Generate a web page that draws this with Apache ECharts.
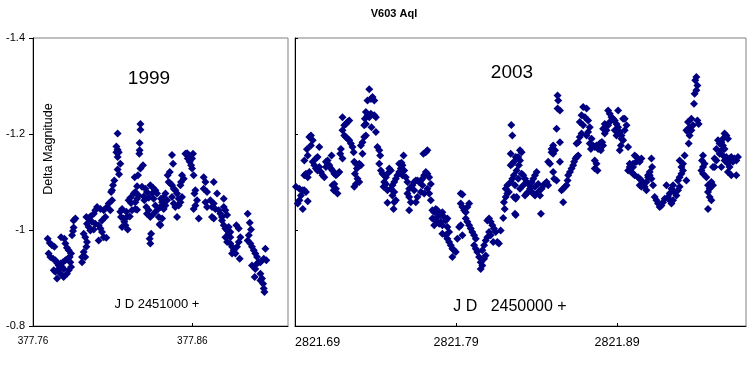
<!DOCTYPE html>
<html>
<head>
<meta charset="utf-8">
<script src="https://cdn.jsdelivr.net/npm/echarts@6/dist/echarts.min.js"></script>
<style>
html,body{margin:0;padding:0;background:#fff;}
#chart{width:750px;height:370px;}
</style>
</head>
<body>
<div id="chart"></div>
<script>
// ---- data ----
const chartTitle = 'V603 Aql';
const yAxisName = 'Delta Magnitude';
const panelYears = ['1999', '2003'];
const panelXNames = ['J D 2451000 +', 'J D   2450000 +'];
const magTicks = [-1.4, -1.2, -1.0, -0.8];
const jdTicks1999 = [377.76, 377.86];
const jdTicks2003 = [2821.69, 2821.79, 2821.89];
const jdRange1999 = [377.76, 377.92];
const jdRange2003 = [2821.69, 2821.97];

const obs1999 = [
[377.7692,-0.982],[377.7705,-0.973],[377.7719,-0.968],[377.7734,-0.965],[377.7698,-0.951],[377.7709,-0.944],
[377.7726,-0.940],[377.7740,-0.937],[377.7751,-0.931],[377.7761,-0.926],[377.7772,-0.930],[377.7788,-0.933],
[377.7803,-0.937],[377.7818,-0.940],[377.7830,-0.944],[377.7839,-0.951],[377.7776,-0.985],[377.7797,-0.982],
[377.7803,-0.972],[377.7813,-0.963],[377.7824,-0.958],[377.7834,-0.933],[377.7839,-0.923],[377.7824,-0.916],
[377.7813,-0.909],[377.7792,-0.902],[377.7772,-0.909],[377.7751,-0.899],[377.7740,-0.913],[377.7730,-0.916],
[377.7761,-0.919],[377.7782,-0.923],[377.7792,-0.919],[377.7855,-1.020],[377.7866,-1.024],[377.7855,-1.005],
[377.7851,-0.998],[377.7845,-0.989],[377.7918,-0.992],[377.7928,-0.985],[377.7939,-0.975],[377.7935,-0.965],
[377.7918,-0.954],[377.7928,-0.944],[377.7908,-0.933],[377.7908,-0.944],[377.8096,-1.062],[377.8075,-1.055],
[377.8064,-1.048],[377.8044,-1.041],[377.8023,-1.044],[377.8002,-1.048],[377.7991,-1.041],[377.7981,-1.034],
[377.7960,-1.028],[377.7949,-1.024],[377.7970,-1.017],[377.7991,-1.013],[377.8012,-1.010],[377.8023,-1.003],
[377.8033,-0.996],[377.8044,-0.985],[377.8060,-0.984],[377.8012,-0.978],[377.7960,-0.999],[377.7981,-1.001],
[377.7949,-1.006],[377.7939,-1.013],[377.8033,-1.020],[377.8054,-1.027],[377.8085,-1.041],[377.7935,-1.027],
[377.8274,-1.221],[377.8274,-1.209],[377.8131,-1.201],[377.8269,-1.181],[377.8269,-1.166],[377.8267,-1.159],
[377.8123,-1.174],[377.8131,-1.167],[377.8123,-1.162],[377.8138,-1.162],[377.8131,-1.152],[377.8148,-1.138],
[377.8131,-1.126],[377.8140,-1.116],[377.8290,-1.135],[377.8274,-1.128],[377.8238,-1.110],[377.8259,-1.114],
[377.8110,-1.103],[377.8102,-1.093],[377.8096,-1.083],[377.8090,-1.079],[377.8253,-1.091],[377.8232,-1.076],
[377.8211,-1.067],[377.8200,-1.062],[377.8215,-1.056],[377.8242,-1.058],[377.8253,-1.065],[377.8263,-1.072],
[377.8242,-1.079],[377.8242,-1.044],[377.8253,-1.042],[377.8221,-1.041],[377.8159,-1.044],[377.8148,-1.038],
[377.8152,-1.027],[377.8169,-1.024],[377.8190,-1.027],[377.8207,-1.028],[377.8173,-1.017],[377.8180,-1.010],
[377.8159,-1.006],[377.8194,-1.001],[377.8186,-1.038],[377.8284,-1.090],[377.8305,-1.086],[377.8315,-1.079],
[377.8336,-1.093],[377.8353,-1.088],[377.8368,-1.083],[377.8378,-1.076],[377.8357,-1.065],[377.8326,-1.067],
[377.8295,-1.070],[377.8299,-1.062],[377.8311,-1.048],[377.8326,-1.041],[377.8315,-1.034],[377.8336,-1.027],
[377.8357,-1.034],[377.8378,-1.041],[377.8368,-1.051],[377.8399,-1.048],[377.8389,-1.027],[377.8410,-1.024],
[377.8395,-1.012],[377.8341,-0.992],[377.8332,-0.982],[377.8336,-0.972],[377.8347,-1.076],[377.8403,-1.065],
[377.8420,-1.062],[377.8472,-1.156],[377.8479,-1.138],[377.8556,-1.159],[377.8567,-1.160],[377.8577,-1.156],
[377.8587,-1.152],[377.8598,-1.149],[377.8583,-1.142],[377.8592,-1.135],[377.8598,-1.128],[377.8608,-1.114],
[377.8604,-1.159],[377.8571,-1.149],[377.8458,-1.121],[377.8445,-1.114],[377.8451,-1.100],[377.8462,-1.097],
[377.8472,-1.093],[377.8483,-1.086],[377.8493,-1.083],[377.8504,-1.076],[377.8514,-1.065],[377.8525,-1.058],
[377.8514,-1.051],[377.8493,-1.048],[377.8504,-1.027],[377.8431,-1.076],[377.8420,-1.069],[377.8410,-1.058],
[377.8420,-1.044],[377.8431,-1.051],[377.8399,-1.010],[377.8535,-1.114],[377.8546,-1.107],[377.8529,-1.100],
[377.8525,-1.093],[377.8535,-1.069],[377.8441,-1.062],[377.8472,-1.069],[377.8483,-1.055],[377.8619,-1.083],
[377.8613,-1.076],[377.8629,-1.062],[377.8619,-1.051],[377.8608,-1.044],[377.8640,-1.024],[377.8671,-1.110],
[377.8682,-1.100],[377.8671,-1.086],[377.8692,-1.079],[377.8682,-1.058],[377.8692,-1.048],[377.8713,-1.062],
[377.8734,-1.055],[377.8723,-1.048],[377.8744,-1.044],[377.8755,-1.076],[377.8734,-1.100],[377.8765,-1.041],
[377.8776,-1.034],[377.8786,-1.027],[377.8797,-1.048],[377.8807,-1.041],[377.8818,-1.031],[377.8797,-1.065],
[377.8723,-1.027],[377.8734,-1.024],[377.8786,-1.020],[377.8797,-1.010],[377.8807,-1.003],[377.8818,-0.999],
[377.8828,-0.992],[377.8838,-0.985],[377.8807,-0.985],[377.8818,-0.975],[377.8838,-0.972],[377.8849,-0.965],
[377.8859,-0.958],[377.8870,-0.951],[377.8849,-0.951],[377.8876,-1.010],[377.8891,-1.003],[377.8901,-0.985],
[377.8891,-0.975],[377.8880,-0.965],[377.8897,-0.940],[377.8828,-1.006],[377.8838,-0.996],[377.8947,-1.034],
[377.8960,-1.015],[377.8968,-1.001],[377.8954,-0.989],[377.8947,-0.978],[377.8964,-0.972],[377.8974,-0.965],
[377.8985,-0.958],[377.8995,-0.951],[377.9006,-0.944],[377.9016,-0.933],[377.8974,-0.926],[377.8995,-0.919],
[377.9006,-0.930],[377.9027,-0.933],[377.9048,-0.940],[377.9058,-0.961],[377.9064,-0.937],[377.8991,-0.902],
[377.9027,-0.909],[377.9037,-0.899],[377.9044,-0.888],[377.9048,-0.878],[377.9052,-0.871],[377.9027,-0.895]
];

const obs2003 = [
[2821.6906,-1.090],[2821.6927,-1.086],[2821.6948,-1.083],[2821.6968,-1.079],[2821.6937,-1.072],[2821.6927,-1.062],
[2821.6917,-1.055],[2821.6948,-1.044],[2821.6979,-1.060],[2821.6958,-1.083],[2821.6958,-1.114],[2821.6968,-1.117],
[2821.6989,-1.121],[2821.6979,-1.110],[2821.6958,-1.145],[2821.6979,-1.155],[2821.6974,-1.168],[2821.6989,-1.194],
[2821.6999,-1.197],[2821.7010,-1.187],[2821.6999,-1.176],[2821.7010,-1.142],[2821.7020,-1.135],[2821.7030,-1.128],
[2821.7040,-1.124],[2821.7051,-1.131],[2821.7030,-1.149],[2821.7040,-1.152],[2821.7051,-1.173],[2821.7061,-1.121],
[2821.7071,-1.114],[2821.7082,-1.110],[2821.7092,-1.131],[2821.7102,-1.138],[2821.7113,-1.135],[2821.7123,-1.128],
[2821.7133,-1.124],[2821.7144,-1.117],[2821.7154,-1.114],[2821.7164,-1.117],[2821.7175,-1.121],[2821.7127,-1.155],
[2821.7102,-1.145],[2821.7092,-1.142],[2821.7133,-1.093],[2821.7144,-1.096],[2821.7154,-1.086],[2821.7140,-1.083],
[2821.7164,-1.076],[2821.7185,-1.169],[2821.7181,-1.159],[2821.7195,-1.149],[2821.7195,-1.235],[2821.7206,-1.218],
[2821.7216,-1.221],[2821.7226,-1.225],[2821.7237,-1.228],[2821.7195,-1.208],[2821.7206,-1.197],[2821.7216,-1.194],
[2821.7226,-1.190],[2821.7237,-1.187],[2821.7247,-1.180],[2821.7257,-1.173],[2821.7264,-1.162],[2821.7268,-1.142],
[2821.7278,-1.138],[2821.7284,-1.128],[2821.7272,-1.117],[2821.7288,-1.107],[2821.7299,-1.100],[2821.7278,-1.096],
[2821.7268,-1.090],[2821.7299,-1.138],[2821.7309,-1.135],[2821.7309,-1.176],[2821.7319,-1.183],[2821.7330,-1.194],
[2821.7340,-1.197],[2821.7330,-1.218],[2821.7340,-1.221],[2821.7319,-1.159],[2821.7361,-1.293],[2821.7350,-1.270],
[2821.7371,-1.273],[2821.7381,-1.277],[2821.7392,-1.270],[2821.7340,-1.246],[2821.7350,-1.239],[2821.7361,-1.235],
[2821.7371,-1.242],[2821.7392,-1.239],[2821.7402,-1.235],[2821.7375,-1.214],[2821.7402,-1.204],[2821.7334,-1.232],
[2821.7412,-1.173],[2821.7423,-1.166],[2821.7429,-1.155],[2821.7423,-1.138],[2821.7433,-1.124],[2821.7443,-1.117],
[2821.7454,-1.114],[2821.7464,-1.110],[2821.7474,-1.117],[2821.7485,-1.128],[2821.7495,-1.124],[2821.7454,-1.100],
[2821.7450,-1.090],[2821.7464,-1.096],[2821.7474,-1.083],[2821.7495,-1.086],[2821.7505,-1.093],[2821.7516,-1.100],
[2821.7526,-1.107],[2821.7536,-1.114],[2821.7547,-1.121],[2821.7557,-1.128],[2821.7567,-1.135],[2821.7578,-1.124],
[2821.7561,-1.140],[2821.7574,-1.155],[2821.7547,-1.138],[2821.7567,-1.114],[2821.7516,-1.079],[2821.7505,-1.072],
[2821.7516,-1.058],[2821.7526,-1.062],[2821.7474,-1.057],[2821.7512,-1.044],[2821.7588,-1.110],[2821.7598,-1.100],
[2821.7609,-1.086],[2821.7598,-1.076],[2821.7609,-1.069],[2821.7619,-1.058],[2821.7609,-1.041],[2821.7629,-1.093],
[2821.7640,-1.100],[2821.7650,-1.103],[2821.7660,-1.103],[2821.7671,-1.100],[2821.7681,-1.103],[2821.7691,-1.107],
[2821.7702,-1.114],[2821.7712,-1.121],[2821.7722,-1.117],[2821.7733,-1.110],[2821.7743,-1.096],[2821.7691,-1.093],
[2821.7681,-1.079],[2821.7702,-1.076],[2821.7722,-1.086],[2821.7733,-1.076],[2821.7743,-1.062],[2821.7697,-1.159],
[2821.7712,-1.162],[2821.7722,-1.166],[2821.7640,-1.083],[2821.7660,-1.069],[2821.7650,-1.058],[2821.7753,-1.041],
[2821.7764,-1.037],[2821.7774,-1.044],[2821.7784,-1.041],[2821.7795,-1.034],[2821.7805,-1.031],[2821.7815,-1.037],
[2821.7826,-1.027],[2821.7836,-1.020],[2821.7846,-1.024],[2821.7784,-1.027],[2821.7774,-1.020],[2821.7764,-1.010],
[2821.7795,-1.013],[2821.7805,-1.017],[2821.7815,-1.010],[2821.7753,-1.024],[2821.7815,-0.992],[2821.7836,-0.989],
[2821.7846,-0.982],[2821.7857,-0.975],[2821.7867,-0.968],[2821.7877,-0.961],[2821.7888,-0.958],[2821.7898,-0.954],
[2821.7877,-0.944],[2821.7857,-0.996],[2821.7846,-1.006],[2821.7908,-0.982],[2821.7919,-1.006],[2821.7929,-1.010],
[2821.7939,-0.989],[2821.7929,-1.076],[2821.7939,-1.074],[2821.7929,-1.055],[2821.7939,-1.048],[2821.7950,-1.041],
[2821.7960,-1.037],[2821.7970,-1.048],[2821.7981,-1.055],[2821.7960,-1.024],[2821.7970,-1.017],[2821.7981,-1.010],
[2821.7991,-1.003],[2821.8001,-0.996],[2821.8012,-0.989],[2821.8022,-0.982],[2821.8012,-0.968],[2821.8022,-0.961],
[2821.8032,-0.954],[2821.8043,-0.944],[2821.8053,-0.933],[2821.8053,-0.919],[2821.8063,-0.926],[2821.8074,-0.940],
[2821.8084,-0.947],[2821.8063,-0.958],[2821.8074,-0.968],[2821.8084,-0.978],[2821.8094,-0.985],[2821.8105,-0.996],
[2821.8094,-1.020],[2821.8105,-1.024],[2821.8115,-1.017],[2821.8125,-1.010],[2821.8135,-1.003],[2821.8146,-0.996],
[2821.8115,-0.989],[2821.8131,-0.975],[2821.8156,-0.975],[2821.8166,-0.972],[2821.8177,-0.999],[2821.8193,-1.025],
[2821.8202,-1.044],[2821.8197,-1.058],[2821.8208,-1.069],[2821.8218,-1.076],[2821.8228,-1.079],[2821.8208,-1.086],
[2821.8218,-1.093],[2821.8239,-1.100],[2821.8249,-1.107],[2821.8259,-1.114],[2821.8239,-1.135],[2821.8249,-1.138],
[2821.8259,-1.142],[2821.8270,-1.152],[2821.8239,-1.159],[2821.8249,-1.197],[2821.8243,-1.219],[2821.8270,-1.031],
[2821.8259,-1.069],[2821.8270,-1.065],[2821.8297,-1.166],[2821.8307,-1.162],[2821.8286,-1.152],[2821.8297,-1.145],
[2821.8290,-1.135],[2821.8276,-1.124],[2821.8286,-1.107],[2821.8266,-1.093],[2821.8276,-1.069],[2821.8266,-1.034],
[2821.8307,-1.117],[2821.8317,-1.114],[2821.8328,-1.107],[2821.8338,-1.100],[2821.8348,-1.096],[2821.8359,-1.093],
[2821.8369,-1.100],[2821.8379,-1.107],[2821.8390,-1.114],[2821.8400,-1.121],[2821.8359,-1.086],[2821.8348,-1.079],
[2821.8338,-1.076],[2821.8328,-1.072],[2821.8369,-1.079],[2821.8379,-1.076],[2821.8390,-1.072],[2821.8410,-1.079],
[2821.8421,-1.072],[2821.8431,-1.086],[2821.8441,-1.093],[2821.8452,-1.096],[2821.8462,-1.100],[2821.8472,-1.093],
[2821.8427,-1.034],[2821.8390,-1.090],[2821.8410,-1.096],[2821.8297,-1.086],[2821.8317,-1.093],[2821.8530,-1.280],
[2821.8534,-1.270],[2821.8530,-1.253],[2821.8545,-1.249],[2821.8524,-1.211],[2821.8545,-1.183],[2821.8503,-1.176],
[2821.8493,-1.169],[2821.8503,-1.159],[2821.8472,-1.142],[2821.8483,-1.138],[2821.8545,-1.142],[2821.8503,-1.121],
[2821.8509,-1.107],[2821.8524,-1.103],[2821.8493,-1.162],[2821.8514,-1.166],[2821.8565,-1.058],[2821.8555,-1.083],
[2821.8565,-1.086],[2821.8576,-1.090],[2821.8586,-1.093],[2821.8592,-1.103],[2821.8596,-1.114],[2821.8607,-1.121],
[2821.8617,-1.128],[2821.8627,-1.135],[2821.8633,-1.142],[2821.8642,-1.149],[2821.8648,-1.152],[2821.8658,-1.155],
[2821.8648,-1.180],[2821.8658,-1.183],[2821.8668,-1.194],[2821.8679,-1.201],[2821.8689,-1.218],[2821.8668,-1.225],
[2821.8679,-1.239],[2821.8700,-1.235],[2821.8689,-1.256],[2821.8710,-1.253],[2821.8720,-1.228],[2821.8730,-1.214],
[2821.8720,-1.204],[2821.8710,-1.197],[2821.8741,-1.190],[2821.8730,-1.180],[2821.8751,-1.176],[2821.8737,-1.169],
[2821.8761,-1.173],[2821.8772,-1.176],[2821.8782,-1.169],[2821.8792,-1.180],[2821.8803,-1.183],[2821.8813,-1.176],
[2821.8799,-1.166],[2821.8807,-1.183],[2821.8761,-1.145],[2821.8772,-1.138],[2821.8761,-1.128],[2821.8778,-1.124],
[2821.8844,-1.249],[2821.8854,-1.242],[2821.8865,-1.235],[2821.8875,-1.232],[2821.8854,-1.225],[2821.8844,-1.218],
[2821.8834,-1.208],[2821.8823,-1.201],[2821.8813,-1.211],[2821.8823,-1.221],[2821.8885,-1.228],[2821.8896,-1.221],
[2821.8906,-1.214],[2821.8916,-1.204],[2821.8927,-1.197],[2821.8937,-1.187],[2821.8923,-1.176],[2821.8916,-1.166],
[2821.8927,-1.190],[2821.8947,-1.208],[2821.8958,-1.218],[2821.8937,-1.232],[2821.8906,-1.249],[2821.8947,-1.232],
[2821.8968,-1.173],[2821.8896,-1.197],[2821.8885,-1.208],[2821.9009,-1.155],[2821.9020,-1.152],[2821.9030,-1.145],
[2821.9040,-1.142],[2821.9051,-1.149],[2821.9020,-1.142],[2821.8999,-1.138],[2821.8978,-1.131],[2821.8968,-1.124],
[2821.8989,-1.121],[2821.8999,-1.117],[2821.9009,-1.114],[2821.8978,-1.138],[2821.8999,-1.131],[2821.9113,-1.149],
[2821.9117,-1.131],[2821.9102,-1.121],[2821.9092,-1.114],[2821.9030,-1.110],[2821.9040,-1.107],[2821.9051,-1.103],
[2821.9061,-1.096],[2821.9071,-1.090],[2821.9082,-1.083],[2821.9040,-1.093],[2821.9051,-1.090],[2821.9092,-1.110],
[2821.9102,-1.114],[2821.9113,-1.107],[2821.9123,-1.093],[2821.9082,-1.100],[2821.9133,-1.069],[2821.9144,-1.062],
[2821.9154,-1.055],[2821.9164,-1.048],[2821.9175,-1.051],[2821.9185,-1.058],[2821.9195,-1.065],[2821.9206,-1.093],
[2821.9216,-1.069],[2821.9226,-1.062],[2821.9237,-1.055],[2821.9247,-1.062],[2821.9226,-1.076],[2821.9237,-1.086],
[2821.9247,-1.093],[2821.9257,-1.079],[2821.9268,-1.072],[2821.9278,-1.083],[2821.9288,-1.090],[2821.9278,-1.103],
[2821.9288,-1.110],[2821.9299,-1.117],[2821.9309,-1.124],[2821.9299,-1.131],[2821.9309,-1.138],[2821.9288,-1.145],
[2821.9319,-1.155],[2821.9330,-1.103],[2821.9392,-1.319],[2821.9385,-1.312],[2821.9398,-1.301],[2821.9392,-1.291],
[2821.9381,-1.284],[2821.9377,-1.263],[2821.9361,-1.232],[2821.9340,-1.225],[2821.9350,-1.214],[2821.9340,-1.204],
[2821.9361,-1.208],[2821.9371,-1.218],[2821.9398,-1.228],[2821.9406,-1.221],[2821.9344,-1.180],[2821.9330,-1.208],
[2821.9350,-1.197],[2821.9433,-1.155],[2821.9427,-1.145],[2821.9443,-1.138],[2821.9433,-1.131],[2821.9423,-1.124],
[2821.9433,-1.117],[2821.9454,-1.110],[2821.9464,-1.093],[2821.9474,-1.086],[2821.9485,-1.100],[2821.9495,-1.093],
[2821.9464,-1.079],[2821.9474,-1.069],[2821.9485,-1.062],[2821.9464,-1.044],[2821.9505,-1.149],[2821.9516,-1.145],
[2821.9495,-1.131],[2821.9526,-1.187],[2821.9536,-1.180],[2821.9547,-1.183],[2821.9557,-1.190],[2821.9567,-1.201],
[2821.9578,-1.197],[2821.9588,-1.190],[2821.9557,-1.176],[2821.9567,-1.169],[2821.9547,-1.166],[2821.9536,-1.159],
[2821.9557,-1.155],[2821.9578,-1.152],[2821.9598,-1.149],[2821.9609,-1.152],[2821.9629,-1.149],[2821.9640,-1.145],
[2821.9650,-1.152],[2821.9619,-1.142],[2821.9588,-1.138],[2821.9598,-1.131],[2821.9588,-1.121],[2821.9609,-1.114],
[2821.9640,-1.114],[2821.9505,-1.131],[2821.9547,-1.131],[2821.9516,-1.169],[2821.9567,-1.145]
];

// ---- chart ----
const FONT = '"Liberation Sans", Arial, sans-serif';
const MARK = '#000080';
const chart = echarts.init(document.getElementById('chart'), null, {renderer: 'canvas'});

function yAxisCfg(gridIndex, showLabels) {
  return {
    type: 'value', gridIndex: gridIndex, inverse: true,
    min: magTicks[0], max: magTicks[magTicks.length - 1], interval: 0.2,
    axisLine: {show: true, onZero: false, lineStyle: {color: '#000', width: 1}},
    axisTick: {show: true, inside: !showLabels, length: showLabels ? 4 : 3, lineStyle: {color: '#000'}},
    axisLabel: {show: showLabels, color: '#000', fontFamily: FONT, fontSize: 11, margin: 8,
      formatter: function (v) { return String(Math.round(v * 10) / 10); }},
    splitLine: {show: false}
  };
}
function xAxisCfg(gridIndex, range, ticks, fontSize, alignMin) {
  return {
    type: 'value', gridIndex: gridIndex, position: 'bottom',
    min: range[0], max: range[1],
    axisLine: {show: true, onZero: false, lineStyle: {color: '#000', width: 1}},
    axisTick: {show: true, inside: true, length: 3, customValues: ticks.slice(1), lineStyle: {color: '#000'}},
    axisLabel: {show: true, color: '#000', fontFamily: FONT, fontSize: fontSize, margin: 10,
      customValues: ticks, alignMinLabel: alignMin,
      formatter: function (v) { return v.toFixed(2); }},
    splitLine: {show: false}
  };
}

const option = {
  animation: false,
  backgroundColor: '#ffffff',
  grid: [
    {left: 33, top: 38, width: 255, height: 288, show: true, borderColor: '#808080', borderWidth: 1, backgroundColor: 'transparent'},
    {left: 295, top: 38, width: 451, height: 288, show: true, borderColor: '#808080', borderWidth: 1, backgroundColor: 'transparent'}
  ],
  xAxis: [
    xAxisCfg(0, jdRange1999, jdTicks1999, 10, 'center'),
    xAxisCfg(1, jdRange2003, jdTicks2003, 12.5, 'left')
  ],
  yAxis: [yAxisCfg(0, true), yAxisCfg(1, false)],
  series: [
    {type: 'scatter', xAxisIndex: 0, yAxisIndex: 0, data: obs1999, symbol: 'diamond', symbolSize: 8,
      itemStyle: {color: MARK, opacity: 1}, silent: true},
    {type: 'scatter', xAxisIndex: 1, yAxisIndex: 1, data: obs2003, symbol: 'diamond', symbolSize: 8,
      itemStyle: {color: MARK, opacity: 1}, silent: true}
  ],
  graphic: [
    {type: 'text', x: 394, y: 14, style: {text: chartTitle, font: 'bold 11px ' + FONT, fill: '#000', align: 'center', verticalAlign: 'middle'}},
    {type: 'text', x: 149, y: 79, style: {text: panelYears[0], font: '19px ' + FONT, fill: '#000', align: 'center', verticalAlign: 'middle'}},
    {type: 'text', x: 512, y: 73, style: {text: panelYears[1], font: '19px ' + FONT, fill: '#000', align: 'center', verticalAlign: 'middle'}},
    {type: 'text', x: 49, y: 149, rotation: Math.PI / 2, style: {text: yAxisName, font: '12.6px ' + FONT, fill: '#000', align: 'center', verticalAlign: 'middle'}},
    {type: 'text', x: 157, y: 304, style: {text: panelXNames[0], font: '13px ' + FONT, fill: '#000', align: 'center', verticalAlign: 'middle'}},
    {type: 'text', x: 510, y: 307, style: {text: panelXNames[1], font: '16px ' + FONT, fill: '#000', align: 'center', verticalAlign: 'middle', whiteSpace: 'pre'}}
  ]
};
chart.setOption(option);
</script>
</body>
</html>
